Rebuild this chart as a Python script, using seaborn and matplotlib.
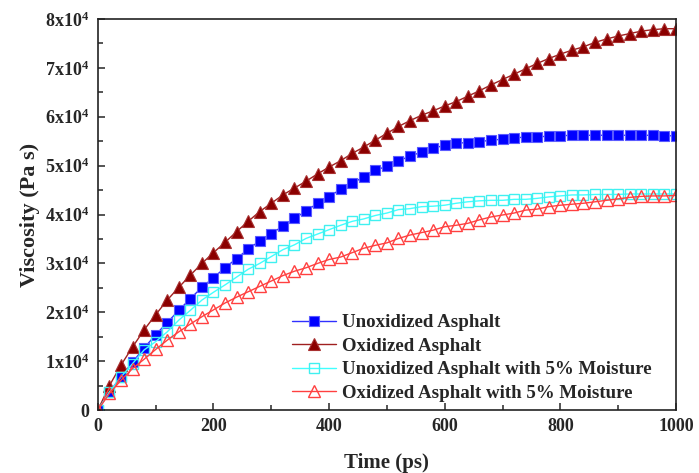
import matplotlib
matplotlib.use("Agg")
import matplotlib.pyplot as plt
import seaborn as sns
import numpy as np

# tijd in ps (elke 20 ps een punt)
time_ps = list(range(0, 1001, 20))

# viscositeit in eenheden van 1e4 Pa s
unoxidized = [0, 0.37, 0.68, 0.98, 1.27, 1.54, 1.79, 2.04, 2.28, 2.51, 2.71,
              2.91, 3.10, 3.29, 3.46, 3.61, 3.76, 3.92, 4.07, 4.23, 4.36,
              4.52, 4.64, 4.77, 4.90, 4.99, 5.10, 5.19, 5.28, 5.35, 5.42,
              5.46, 5.47, 5.49, 5.52, 5.54, 5.57, 5.58, 5.59, 5.60, 5.61,
              5.62, 5.62, 5.62, 5.62, 5.62, 5.62, 5.62, 5.62, 5.61, 5.61]
oxidized = [0, 0.50, 0.92, 1.29, 1.64, 1.95, 2.25, 2.51, 2.76, 3.00, 3.22,
            3.43, 3.65, 3.86, 4.06, 4.23, 4.40, 4.54, 4.68, 4.83, 4.97,
            5.10, 5.25, 5.38, 5.52, 5.66, 5.80, 5.92, 6.03, 6.12, 6.22,
            6.31, 6.42, 6.53, 6.65, 6.76, 6.87, 6.98, 7.09, 7.19, 7.28,
            7.36, 7.43, 7.52, 7.59, 7.65, 7.70, 7.75, 7.78, 7.80, 7.80]
unoxidized_moist = [0, 0.37, 0.68, 0.95, 1.23, 1.40, 1.60, 1.84, 2.04, 2.25, 2.41,
                    2.56, 2.72, 2.88, 3.00, 3.14, 3.28, 3.38, 3.51, 3.60, 3.69,
                    3.78, 3.86, 3.91, 3.98, 4.03, 4.10, 4.12, 4.16, 4.17, 4.19,
                    4.23, 4.26, 4.28, 4.29, 4.29, 4.31, 4.31, 4.33, 4.36, 4.38,
                    4.40, 4.40, 4.41, 4.41, 4.41, 4.42, 4.42, 4.42, 4.42, 4.42]
oxidized_moist = [0, 0.34, 0.61, 0.85, 1.04, 1.24, 1.43, 1.60, 1.76, 1.91, 2.05,
                  2.19, 2.31, 2.42, 2.53, 2.64, 2.75, 2.84, 2.91, 3.00, 3.08,
                  3.13, 3.22, 3.31, 3.37, 3.42, 3.51, 3.58, 3.63, 3.68, 3.75,
                  3.78, 3.82, 3.89, 3.95, 3.99, 4.03, 4.09, 4.11, 4.16, 4.19,
                  4.21, 4.23, 4.26, 4.29, 4.32, 4.35, 4.37, 4.38, 4.38, 4.39]

labels = ["Unoxidized Asphalt", "Oxidized Asphalt",
          "Unoxidized Asphalt with 5% Moisture", "Oxidized Asphalt with 5% Moisture"]
ytick_vals = [0, 1, 2, 3, 4, 5, 6, 7, 8]
ytick_labels = ["0", "1x10$^4$", "2x10$^4$", "3x10$^4$", "4x10$^4$",
                "5x10$^4$", "6x10$^4$", "7x10$^4$", "8x10$^4$"]

sns.set_style("ticks")
plt.rcParams["font.family"] = ["Liberation Serif", "DejaVu Serif"]
plt.rcParams["font.weight"] = "bold"
plt.rcParams["mathtext.fontset"] = "custom"
plt.rcParams["mathtext.rm"] = "Liberation Serif:bold"
plt.rcParams["mathtext.default"] = "rm"

fig = plt.figure(figsize=(6.99, 4.73), dpi=100)
ax = fig.add_axes([0.140, 0.133, 0.827, 0.827])

# --- de vier reeksen ---
sns.lineplot(x=time_ps, y=unoxidized, ax=ax, color="#3030ff", lw=1,
             marker="s", ms=6.5, mfc="#0000ff", mec="#5a5aff", mew=0.8,
             label=labels[0])
sns.lineplot(x=time_ps, y=oxidized, ax=ax, color="#a02020", lw=1,
             marker="^", ms=8, mfc="#8b0000", mec="#a83030", mew=0.8,
             label=labels[1])
sns.lineplot(x=time_ps, y=unoxidized_moist, ax=ax, color="#40ffff", lw=1,
             marker="s", ms=6.5, mfc="none", mec="#40f0f0", mew=1,
             label=labels[2])
sns.lineplot(x=time_ps, y=oxidized_moist, ax=ax, color="#ff4040", lw=1,
             marker="^", ms=8, mfc="none", mec="#ff4040", mew=1,
             label=labels[3])

ax.set_xlim(0, 1000)
ax.set_ylim(0, 8)
ax.set_xticks(range(0, 1001, 200))
ax.set_xticks(range(100, 1000, 200), minor=True)
ax.set_yticks(ytick_vals)
ax.set_yticklabels(ytick_labels)
ax.set_yticks(np.arange(0.5, 8, 1), minor=True)
ax.tick_params(which="both", direction="in", top=False, right=False,
               labelsize=13, width=1.1, pad=6)
ax.tick_params(which="major", length=5)
ax.tick_params(which="minor", length=3.5)
for s in ax.spines.values():
    s.set_linewidth(1.2)
    s.set_color("#222222")

ax.set_xlabel("Time (ps)", fontsize=15, fontweight="bold", labelpad=13)
ax.set_ylabel("Viscosity (Pa s)", fontsize=16, fontweight="bold", labelpad=4)

ax.legend(loc="lower left", bbox_to_anchor=(0.33, 0.012), frameon=False,
          prop={"size": 13.6, "weight": "bold"}, handlelength=2.3,
          handletextpad=0.3, labelspacing=0.33, borderpad=0.2, borderaxespad=0)

fig.savefig("out.png", dpi=100)
